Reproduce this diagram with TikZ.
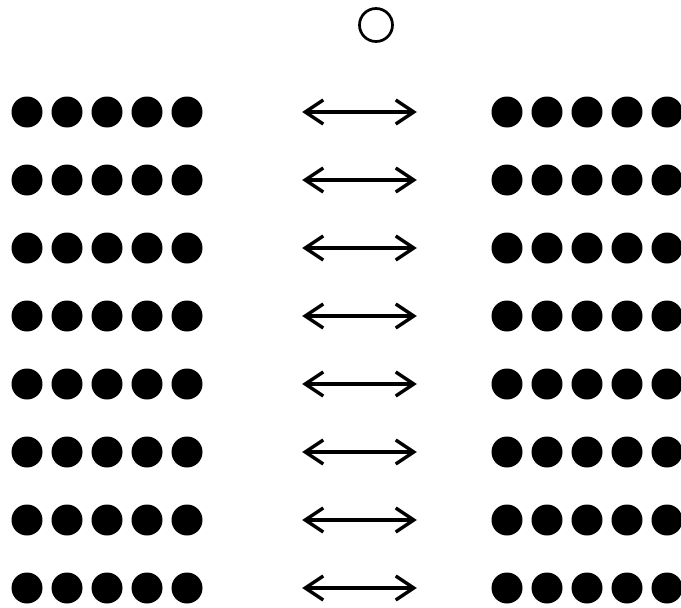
\documentclass[tikz,border=0pt]{standalone}
\usetikzlibrary{arrows.meta,positioning}
\begin{document}
\begin{tikzpicture}[
  x=1pt, y=-1pt,
  bead/.style={circle, fill=black, inner sep=0pt, minimum size=31pt},
  ring/.style={circle, draw, line width=2.7pt, inner sep=0pt, minimum size=33pt},
  pairarrow/.style={line width=3.4pt, {Straight Barb[length=18pt,width=24pt]}-{Straight Barb[length=18pt,width=24pt]}}
]
  \useasboundingbox (0,0) rectangle (681,608);
  \node[ring] (top) at (376,25) {};
  \foreach \i in {1,...,8} {
    \foreach \j in {1,...,5} {
      \node[bead] (l\i-\j) at ({27+40*(\j-1)}, {112+68*(\i-1)}) {};
      \node[bead] (r\i-\j) at ({507+40*(\j-1)}, {112+68*(\i-1)}) {};
    }
    \coordinate[right=99.5pt of l\i-5] (a\i);
    \coordinate[left=74.5pt of r\i-1] (b\i);
    \draw[pairarrow] (a\i) -- (b\i);
  }
\end{tikzpicture}
\end{document}
